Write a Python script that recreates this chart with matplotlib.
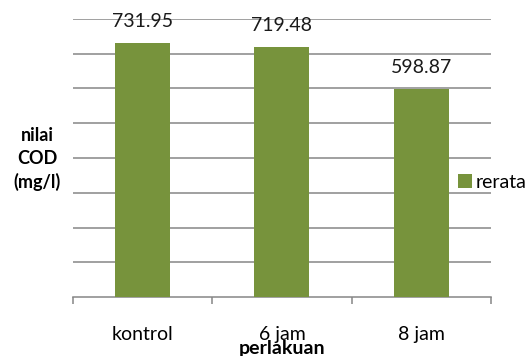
import matplotlib
matplotlib.use("Agg")
import matplotlib.pyplot as plt
import numpy as np

plt.rcParams["font.family"] = ["Lato", "DejaVu Sans"]

categories = ["kontrol", "6 jam", "8 jam"]
rerata = [731.95, 719.48, 598.87]

bar_color = "#77933C"
grid_color = "#868686"

fig = plt.figure(figsize=(5.29, 3.56), dpi=100)
ax = fig.add_axes([0.138, 0.1657, 0.79, 0.781])

x = np.arange(len(categories))
bars = ax.bar(x, rerata, width=0.395, color=bar_color, label="rerata", zorder=3)

for xi, v in zip(x, rerata):
    ax.annotate(f"{v:.2f}", (xi, v), xytext=(0, 9), textcoords="offset points",
                ha="center", va="bottom", fontsize=14, color="#1a1a1a")

ax.set_xlim(-0.5, len(categories) - 0.5)
ax.set_ylim(0, 800)
ax.set_yticks(np.arange(100, 801, 100))
ax.yaxis.grid(True, color=grid_color, linewidth=1.1, zorder=0)
ax.tick_params(axis="y", length=0, labelleft=False)

# category labels sit between the boundary ticks
ax.set_xticks(np.arange(-0.5, len(categories), 1.0))
ax.set_xticklabels([])
ax.set_xticks(x, minor=True)
ax.set_xticklabels(categories, minor=True, fontsize=14)
ax.tick_params(axis="x", which="major", direction="out", length=5, width=1.1, color=grid_color)
ax.tick_params(axis="x", which="minor", length=0, pad=21)

for side in ["left", "right", "top"]:
    ax.spines[side].set_visible(False)
ax.spines["bottom"].set_color(grid_color)
ax.spines["bottom"].set_linewidth(1.1)

fig.text(0.533, 0.022, "perlakuan", ha="center", va="center", fontsize=14, fontweight="bold")
fig.text(0.07, 0.553, "nilai\nCOD\n(mg/l)", ha="center", va="center", fontsize=13,
         fontweight="bold", linespacing=1.4)

fig.legend(handles=[bars], labels=["rerata"], loc="center left",
           bbox_to_anchor=(0.866, 0.488), frameon=False, fontsize=14, borderpad=0,
           borderaxespad=0, handlelength=0.7, handleheight=0.7, handletextpad=0.2)

fig.savefig("out.png", dpi=100)
